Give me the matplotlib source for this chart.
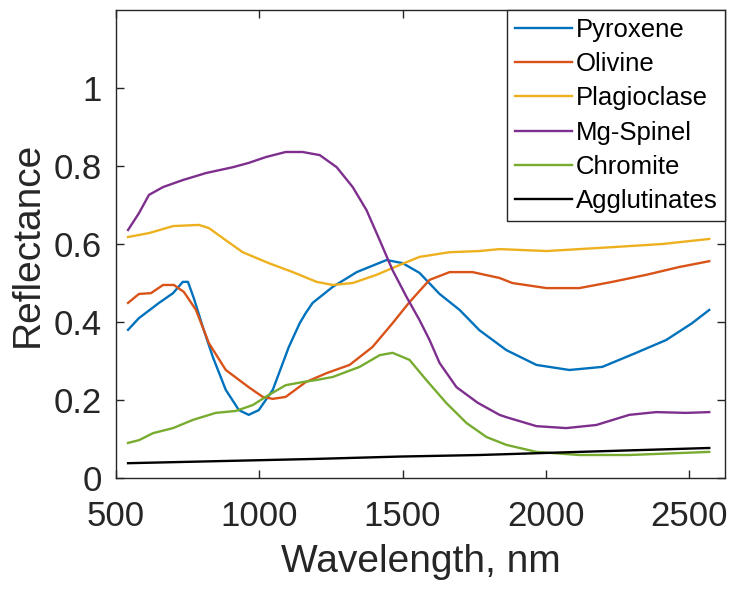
import matplotlib
matplotlib.use("Agg")
import matplotlib.pyplot as plt

plt.rcParams['font.family'] = ['Liberation Sans', 'DejaVu Sans']

# Spectra (wavelength nm, reflectance)
pyroxene_x = [542, 580, 650, 699, 733, 751, 772, 803, 838, 883, 929, 963, 998, 1047, 1103, 1141,
              1162, 1186, 1256, 1340, 1444, 1500, 1559, 1629, 1699, 1768, 1862, 1967, 2082, 2197,
              2315, 2420, 2510, 2570]
pyroxene_y = [0.38, 0.41, 0.449, 0.474, 0.503, 0.503, 0.46, 0.387, 0.31, 0.226, 0.174, 0.162,
              0.174, 0.226, 0.336, 0.397, 0.423, 0.449, 0.49, 0.528, 0.559, 0.551, 0.526, 0.472,
              0.431, 0.379, 0.328, 0.29, 0.277, 0.285, 0.321, 0.354, 0.397, 0.431]

olivine_x = [542, 580, 622, 664, 702, 737, 779, 824, 883, 963, 1012, 1047, 1092, 1162, 1235, 1315,
             1395, 1465, 1524, 1594, 1664, 1744, 1838, 1883, 2002, 2117, 2232, 2350, 2465, 2570]
olivine_y = [0.449, 0.472, 0.474, 0.495, 0.495, 0.477, 0.431, 0.346, 0.277, 0.233, 0.208, 0.203,
             0.208, 0.246, 0.269, 0.29, 0.336, 0.397, 0.451, 0.508, 0.528, 0.528, 0.513, 0.5,
             0.487, 0.487, 0.503, 0.521, 0.541, 0.556]

plagioclase_x = [542, 615, 699, 789, 824, 873, 942, 1033, 1117, 1200, 1256, 1326, 1409, 1489,
                 1559, 1664, 1768, 1838, 2002, 2232, 2406, 2570]
plagioclase_y = [0.618, 0.628, 0.646, 0.649, 0.641, 0.615, 0.579, 0.551, 0.528, 0.503, 0.495,
                 0.5, 0.521, 0.546, 0.567, 0.579, 0.582, 0.587, 0.582, 0.592, 0.6, 0.613]

spinel_x = [542, 580, 615, 664, 733, 814, 908, 963, 1023, 1092, 1151, 1211, 1270, 1326, 1374,
            1420, 1465, 1514, 1559, 1594, 1629, 1688, 1762, 1838, 1862, 1967, 2071, 2176, 2291,
            2385, 2489, 2570]
spinel_y = [0.636, 0.679, 0.726, 0.746, 0.764, 0.782, 0.797, 0.808, 0.823, 0.836, 0.836, 0.828,
            0.797, 0.746, 0.687, 0.61, 0.533, 0.464, 0.405, 0.354, 0.295, 0.233, 0.193, 0.162,
            0.156, 0.133, 0.128, 0.136, 0.162, 0.169, 0.167, 0.169]

chromite_x = [542, 580, 629, 699, 768, 848, 918, 977, 1033, 1092, 1151, 1197, 1256, 1350, 1420,
              1465, 1524, 1583, 1653, 1723, 1793, 1862, 1967, 2117, 2291, 2570]
chromite_y = [0.09, 0.097, 0.115, 0.128, 0.149, 0.167, 0.172, 0.187, 0.213, 0.238, 0.246, 0.251,
              0.259, 0.285, 0.315, 0.321, 0.303, 0.251, 0.192, 0.141, 0.105, 0.085, 0.067,
              0.059, 0.059, 0.067]

agglutinates_x = [542, 1197, 1489, 1768, 2117, 2570]
agglutinates_y = [0.038, 0.049, 0.055, 0.059, 0.067, 0.077]

labels = ['Pyroxene', 'Olivine', 'Plagioclase', 'Mg-Spinel', 'Chromite', 'Agglutinates']
colors = ['#0072BD', '#D95319', '#EDB120', '#7E2F8E', '#77AC30', '#000000']
series = [(pyroxene_x, pyroxene_y), (olivine_x, olivine_y), (plagioclase_x, plagioclase_y),
          (spinel_x, spinel_y), (chromite_x, chromite_y), (agglutinates_x, agglutinates_y)]

fig = plt.figure(figsize=(7.31, 5.90), dpi=100)
ax = fig.add_axes([0.1587, 0.1898, 0.8331, 0.7932])

for (x, y), lab, c in zip(series, labels, colors):
    ax.plot(x, y, color=c, linewidth=1.7, label=lab)

ax.set_xlim(500, 2625)
ax.set_ylim(0, 1.2)
ax.set_xticks([500, 1000, 1500, 2000, 2500])
ax.set_yticks([0, 0.2, 0.4, 0.6, 0.8, 1])
ax.set_yticklabels(['0', '0.2', '0.4', '0.6', '0.8', '1'])
ax.tick_params(direction='in', top=True, right=True, labelsize=25, length=6,
               colors='#262626', width=1)
ax.tick_params(axis='x', pad=16)
ax.tick_params(axis='y', pad=10)
for s in ax.spines.values():
    s.set_color('#262626')
    s.set_linewidth(1)

ax.set_xlabel('Wavelength, nm', fontsize=28, color='#262626', labelpad=8)
ax.set_ylabel('Reflectance', fontsize=28, color='#262626', labelpad=6)

leg = ax.legend(loc='upper right', borderaxespad=0, fontsize=18.5, fancybox=False,
                edgecolor='#262626', framealpha=1, handlelength=2.2, handletextpad=0.15,
                labelspacing=0.4, borderpad=0.3)
leg.get_frame().set_linewidth(1)

fig.savefig('out.png', dpi=100)
